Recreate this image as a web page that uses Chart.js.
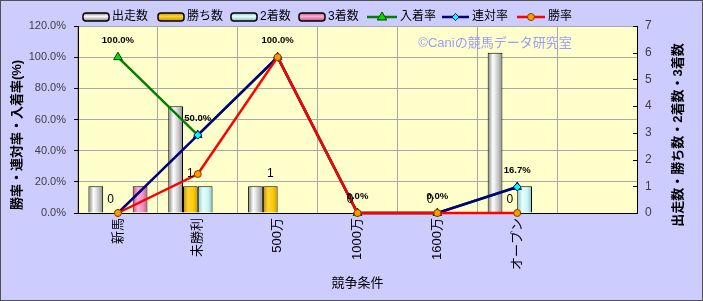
<!DOCTYPE html>
<html><head><meta charset="utf-8">
<script src="https://cdn.jsdelivr.net/npm/chart.js@4.4.0/dist/chart.umd.min.js"></script>
<style>html,body{margin:0;padding:0;background:#ccccff;overflow:hidden}</style>
</head><body><canvas id="c" width="703" height="301" style="display:block;width:703px;height:301px"></canvas>
<script>
const categories = ['新馬','未勝利','500万','1000万','1600万','オープン',''];
const starts = [1,4,1,0,0,6,null];
const wins = [0,1,1,0,0,0,null];
const seconds = [0,1,0,0,0,1,null];
const thirds = [1,0,0,0,0,0,null];
const placeRate = [100,50,100,0,0,16.7,null];
const quinellaRate = [0,50,100,0,0,16.7,null];
const winRate = [0,25,100,0,0,0,null];
const leftTicks = [0,20,40,60,80,100,120];
const rightTicks = [0,1,2,3,4,5,6,7];

const JP = '"Liberation Sans","Noto Sans CJK JP",sans-serif';
const CAT_PCT = 0.74;

const barStyles = [
  ['#7a7a7a','#ffffff','#c8c8c8','#8a8a8a'],
  ['#c08a00','#ffd633','#ffcc00','#c89400'],
  ['#88c4c4','#e8ffff','#c8f4f4','#88c0c0'],
  ['#b8507f','#ffb0d8','#f090c0','#b85c88']
];
function barFill(i){
  return (ctx)=>{
    const chart = ctx.chart, xs = chart.scales && chart.scales.x;
    const st = barStyles[i];
    if(!xs || ctx.dataIndex === undefined) return st[2];
    const cw = xs.width / categories.length;
    const bw = cw*CAT_PCT/4;
    const cx = xs.getPixelForValue(ctx.dataIndex);
    const left = cx - cw*CAT_PCT/2 + i*bw;
    if(!isFinite(left) || !isFinite(bw) || bw<=0) return st[2];
    const g = chart.ctx.createLinearGradient(left,0,left+bw,0);
    g.addColorStop(0,st[0]); g.addColorStop(0.35,st[1]); g.addColorStop(0.7,st[2]); g.addColorStop(1,st[3]);
    return g;
  };
}

function drawSwatch(c,x,y,w,h,st){
  const g = c.createLinearGradient(0,y-h/2,0,y+h/2);
  g.addColorStop(0,st[0]); g.addColorStop(0.4,st[1]); g.addColorStop(1,st[3]);
  c.fillStyle = g; c.strokeStyle = '#000'; c.lineWidth = 1.5;
  c.beginPath(); c.roundRect(x,y-h/2,w,h,3); c.fill(); c.stroke();
}
function drawMarker(c,style,x,y,r,fill,stroke){
  c.fillStyle = fill; c.strokeStyle = stroke; c.lineWidth = 1;
  c.beginPath();
  if(style==='triangle'){
    c.moveTo(x,y-r); c.lineTo(x+r*0.95,y+r*0.6); c.lineTo(x-r*0.95,y+r*0.6); c.closePath();
  } else if(style==='rectRot'){
    c.moveTo(x,y-r); c.lineTo(x+r,y); c.lineTo(x,y+r); c.lineTo(x-r,y); c.closePath();
  } else { c.arc(x,y,r,0,Math.PI*2); }
  c.fill(); c.stroke();
}

const deco = {
  id:'deco',
  beforeDraw(chart){
    const c = chart.ctx, ca = chart.chartArea;
    c.save();
    c.fillStyle = '#ccccff'; c.fillRect(0,0,chart.width,chart.height);
    c.fillStyle = '#ffffcc'; c.fillRect(ca.left,ca.top,ca.right-ca.left,ca.bottom-ca.top);
    c.restore();
  },
  afterDatasetsDraw(chart){
    const c = chart.ctx;
    c.save();
    c.fillStyle = '#000'; c.textAlign = 'center'; c.textBaseline = 'middle';
    c.font = '12px ' + JP;
    chart.getDatasetMeta(1).data.forEach((el,i)=>{
      if(wins[i]===null) return;
      c.fillText(String(wins[i]), el.x, el.y - 13);
    });
    c.font = 'bold 9.5px ' + JP;
    chart.getDatasetMeta(4).data.forEach((el,i)=>{
      if(placeRate[i]===null) return;
      c.fillText(placeRate[i].toFixed(1)+'%', el.x, el.y - 17);
    });
    c.restore();
  },
  afterDraw(chart){
    const c = chart.ctx, ca = chart.chartArea;
    c.save();
    const y2 = chart.scales.y2;
    c.strokeStyle = '#000'; c.lineWidth = 1;
    rightTicks.forEach(v=>{
      const y = Math.round(y2.getPixelForValue(v))+0.5;
      c.beginPath(); c.moveTo(ca.right-4,y); c.lineTo(ca.right,y); c.stroke();
    });
    c.strokeStyle = '#505050'; c.lineWidth = 1;
    c.strokeRect(0.5,0.5,chart.width-1,chart.height-1);
    c.fillStyle = '#9a9aff'; c.font = '13px ' + JP; c.textAlign='center'; c.textBaseline='middle';
    c.fillText('©Caniの競馬データ研究室', 495, 43);
    c.fillStyle = '#000'; c.font = 'bold 13px ' + JP;
    c.save(); c.translate(17,135); c.rotate(-Math.PI/2); c.fillText('勝率・連対率・入着率(%)',0,0); c.restore();
    c.save(); c.translate(678,135); c.rotate(-Math.PI/2); c.fillText('出走数・勝ち数・2着数・3着数',0,0); c.restore();
    c.font = '13px ' + JP;
    c.fillText('競争条件', (ca.left+ca.right)/2, 283);
    c.font = '12px ' + JP; c.textAlign = 'left';
    const barLeg = [['出走数',83],['勝ち数',158],['2着数',231],['3着数',299]];
    barLeg.forEach((b,i)=>{
      drawSwatch(c,b[1],17,26,8,barStyles[i]);
      c.fillStyle = '#000'; c.fillText(b[0], b[1]+29, 17);
    });
    const lineLeg = [
      ['入着率',367,397,'#008000','triangle',5,'#00dd00','#004000'],
      ['連対率',442,469,'#000080','rectRot',3.5,'#00ffff','#000080'],
      ['勝率',517,545,'#ff0000','circle',3.5,'#ff9900','#804000']
    ];
    lineLeg.forEach(l=>{
      c.strokeStyle = l[3]; c.lineWidth = 2.5;
      c.beginPath(); c.moveTo(l[1],17); c.lineTo(l[2],17); c.stroke();
      drawMarker(c,l[4],(l[1]+l[2])/2,17,l[5],l[6],l[7]);
      c.fillStyle = '#000'; c.fillText(l[0], l[2]+3, 17);
    });
    c.restore();
  }
};

const barDs = (label,data,i)=>({
  type:'bar', label, data, yAxisID:'y2', order:10+i,
  backgroundColor: barFill(i), borderColor:'#000', borderWidth:1,
  barPercentage:1, categoryPercentage:CAT_PCT
});
const lineDs = (label,data,color,style,r,pf,pb,order)=>({
  type:'line', label, data, yAxisID:'y', order, clip:false,
  borderColor:color, borderWidth:2.5, tension:0, spanGaps:false,
  pointStyle:style, pointRadius:r, pointBackgroundColor:pf, pointBorderColor:pb, pointBorderWidth:1
});

new Chart(document.getElementById('c'), {
  data:{
    labels: categories,
    datasets:[
      barDs('出走数',starts,0),
      barDs('勝ち数',wins,1),
      barDs('2着数',seconds,2),
      barDs('3着数',thirds,3),
      lineDs('入着率',placeRate,'#008000','triangle',5,'#00dd00','#004000',3),
      lineDs('連対率',quinellaRate,'#000080','rectRot',4,'#00ffff','#000080',2),
      lineDs('勝率',winRate,'#ff0000','circle',3.5,'#ff9900','#804000',1)
    ]
  },
  options:{
    responsive:false, animation:false, devicePixelRatio:1,
    layout:{padding:{top:26,left:0,right:0,bottom:0}},
    plugins:{legend:{display:false}, tooltip:{enabled:false}},
    scales:{
      x:{
        offset:true,
        afterFit(s){ s.height = 88; },
        grid:{offset:true, color:'#a8a8a8', borderDash:[3,2], drawTicks:false},
        border:{color:'#000', width:1},
        ticks:{autoSkip:false, minRotation:90, maxRotation:90, padding:5, color:'#000', font:{size:13, family:JP}}
      },
      y:{
        position:'left', min:0, max:120,
        afterFit(s){ s.width = 78; },
        afterBuildTicks(s){ s.ticks = leftTicks.map(v=>({value:v})); },
        grid:{color:'#a8a8a8', borderDash:[3,2], tickLength:4, tickColor:'#000', tickBorderDash:[]},
        border:{color:'#000', width:1},
        ticks:{padding:8, color:'#404040', font:{size:11, family:JP}, callback:v=>Number(v).toFixed(1)+'%'}
      },
      y2:{
        position:'right', min:0, max:7,
        afterFit(s){ s.width = 66; },
        afterBuildTicks(s){ s.ticks = rightTicks.map(v=>({value:v})); },
        grid:{drawOnChartArea:false, drawTicks:false},
        border:{color:'#000', width:1},
        ticks:{padding:8, color:'#404040', font:{size:12, family:JP}}
      }
    }
  },
  plugins:[deco]
});
</script>
</body></html>
